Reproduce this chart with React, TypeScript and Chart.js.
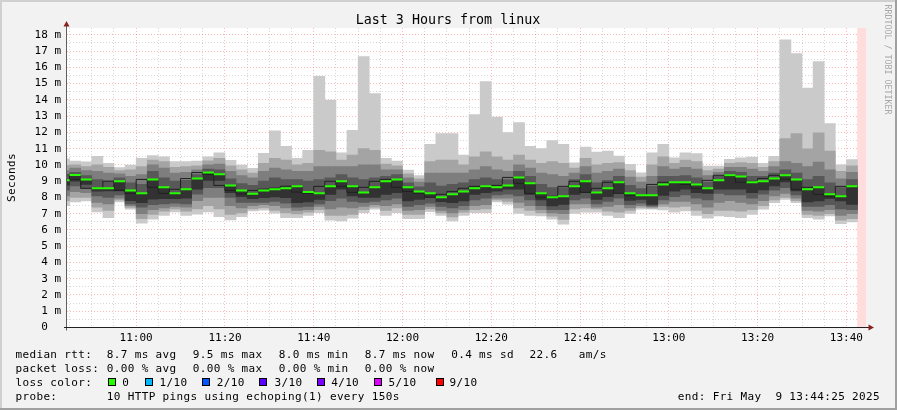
import React, { useEffect, useRef } from 'react';
import { Chart, registerables } from 'chart.js';

Chart.register(...registerables);

// ---------------- data ----------------
// end time of each 150 s probe round (value covers the 2.5 min before it)
const sampleEnds: string[] = [
  '10:45:00', '10:47:30', '10:50:00', '10:52:30', '10:55:00', '10:57:30',
  '11:00:00', '11:02:30', '11:05:00', '11:07:30', '11:10:00', '11:12:30',
  '11:15:00', '11:17:30', '11:20:00', '11:22:30', '11:25:00', '11:27:30',
  '11:30:00', '11:32:30', '11:35:00', '11:37:30', '11:40:00', '11:42:30',
  '11:45:00', '11:47:30', '11:50:00', '11:52:30', '11:55:00', '11:57:30',
  '12:00:00', '12:02:30', '12:05:00', '12:07:30', '12:10:00', '12:12:30',
  '12:15:00', '12:17:30', '12:20:00', '12:22:30', '12:25:00', '12:27:30',
  '12:30:00', '12:32:30', '12:35:00', '12:37:30', '12:40:00', '12:42:30',
  '12:45:00', '12:47:30', '12:50:00', '12:52:30', '12:55:00', '12:57:30',
  '13:00:00', '13:02:30', '13:05:00', '13:07:30', '13:10:00', '13:12:30',
  '13:15:00', '13:17:30', '13:20:00', '13:22:30', '13:25:00', '13:27:30',
  '13:30:00', '13:32:30', '13:35:00', '13:37:30', '13:40:00', '13:42:30',
];
// rounds with no data yet (drawn pink)
const unknownEnds: string[] = ['13:45:00'];

// sorted ping times (ms) of the 10 pings in each round; median = 6th value
const ping1: number[] = [
  7.50, 7.72, 7.78, 7.11, 6.76, 7.72, 7.27, 6.41, 6.66, 6.90, 7.11, 6.90,
  6.97, 7.11, 6.82, 6.62, 6.82, 7.17, 7.21, 7.03, 6.76, 6.76, 6.90, 7.07,
  6.60, 6.55, 6.72, 7.07, 7.27, 6.90, 7.07, 6.70, 6.70, 7.12, 6.90, 6.55,
  6.90, 7.07, 7.07, 7.72, 7.58, 7.02, 6.90, 6.86, 6.66, 6.35, 7.02, 7.10,
  7.10, 6.90, 6.76, 7.02, 7.27, 7.27, 7.23, 7.10, 7.17, 6.90, 6.72, 6.86,
  6.82, 6.76, 6.96, 7.27, 7.68, 7.88, 7.68, 6.76, 6.66, 6.86, 6.39, 6.49,
];
const ping2: number[] = [
  7.80, 8.00, 8.00, 7.40, 7.20, 7.85, 7.38, 6.70, 6.95, 7.15, 7.30, 7.15,
  7.30, 7.50, 7.30, 6.95, 7.05, 7.30, 7.35, 7.20, 7.05, 6.98, 7.10, 7.25,
  6.90, 6.90, 6.95, 7.25, 7.40, 7.20, 7.35, 6.95, 6.95, 7.30, 7.05, 6.80,
  7.10, 7.25, 7.30, 7.85, 7.75, 7.35, 7.20, 7.05, 6.85, 6.65, 7.30, 7.35,
  7.30, 7.15, 7.10, 7.20, 7.38, 7.34, 7.45, 7.40, 7.45, 7.20, 7.00, 7.20,
  7.20, 7.15, 7.25, 7.50, 7.85, 8.00, 7.80, 6.95, 6.90, 7.00, 6.60, 6.70,
];
const ping3: number[] = [
  8.10, 8.35, 8.30, 7.70, 7.60, 7.95, 7.50, 7.00, 7.25, 7.35, 7.45, 7.40,
  7.80, 8.00, 8.00, 7.50, 7.35, 7.50, 7.55, 7.50, 7.35, 7.20, 7.25, 7.45,
  7.30, 7.40, 7.35, 7.45, 7.55, 7.50, 7.60, 7.20, 7.25, 7.45, 7.20, 7.05,
  7.25, 7.50, 7.55, 7.95, 7.95, 7.70, 7.50, 7.25, 7.05, 7.00, 7.60, 7.60,
  7.40, 7.45, 7.55, 7.35, 7.50, 7.42, 7.60, 7.75, 7.75, 7.60, 7.40, 7.70,
  7.80, 7.70, 7.60, 7.80, 8.10, 8.25, 7.95, 7.20, 7.15, 7.25, 6.90, 7.00,
];
const ping4: number[] = [
  8.45, 8.70, 8.55, 8.10, 8.00, 8.15, 7.60, 7.40, 7.55, 7.60, 7.65, 7.60,
  8.20, 8.60, 8.60, 8.00, 7.70, 7.70, 7.70, 7.75, 7.65, 7.40, 7.45, 7.60,
  7.80, 7.95, 7.75, 7.70, 7.75, 7.85, 7.95, 7.45, 7.55, 7.65, 7.45, 7.35,
  7.50, 7.85, 7.95, 8.15, 8.20, 8.10, 7.85, 7.50, 7.25, 7.25, 7.85, 7.95,
  7.60, 7.75, 7.95, 7.55, 7.65, 7.48, 7.85, 8.05, 8.15, 7.95, 7.85, 8.25,
  8.15, 8.15, 7.95, 8.20, 8.45, 8.60, 8.15, 7.45, 7.45, 7.55, 7.30, 7.25,
];
const ping5: number[] = [
  8.75, 9.00, 8.80, 8.38, 8.40, 8.40, 7.80, 7.68, 7.90, 7.93, 7.92, 7.95,
  8.50, 9.05, 9.05, 8.29, 8.05, 7.92, 7.99, 8.03, 7.99, 7.68, 7.72, 7.88,
  8.19, 8.50, 8.09, 8.00, 8.00, 8.19, 8.29, 7.78, 7.88, 7.99, 7.74, 7.68,
  7.78, 8.19, 8.29, 8.39, 8.50, 8.50, 8.19, 7.84, 7.47, 7.57, 8.19, 8.29,
  7.88, 8.05, 8.29, 7.82, 7.88, 7.57, 8.13, 8.39, 8.50, 8.29, 8.25, 8.50,
  8.50, 8.50, 8.29, 8.46, 8.70, 8.95, 8.40, 7.72, 7.78, 7.92, 7.78, 7.57,
];
const median: number[] = [
  9.05, 9.38, 9.11, 8.56, 8.56, 9.00, 8.43, 8.25, 9.11, 8.62, 8.25, 8.50,
  9.16, 9.53, 9.42, 8.74, 8.43, 8.22, 8.43, 8.51, 8.57, 8.69, 8.33, 8.25,
  8.68, 8.99, 8.68, 8.31, 8.62, 8.99, 9.11, 8.62, 8.37, 8.25, 8.01, 8.19,
  8.37, 8.56, 8.68, 8.62, 8.74, 9.23, 8.87, 8.25, 8.01, 8.07, 8.68, 8.99,
  8.31, 8.56, 8.93, 8.25, 8.13, 8.13, 8.80, 8.93, 8.93, 8.80, 8.56, 9.05,
  9.36, 9.29, 8.93, 8.99, 9.17, 9.36, 9.11, 8.50, 8.62, 8.19, 8.07, 8.68,
];
const ping7: number[] = [
  9.30, 9.55, 9.35, 9.10, 9.00, 9.20, 8.90, 8.80, 9.60, 9.20, 9.00, 9.05,
  9.40, 9.75, 9.70, 9.15, 8.85, 8.75, 9.00, 9.20, 9.10, 9.10, 9.00, 9.10,
  9.20, 9.40, 9.20, 9.10, 9.20, 9.30, 9.40, 8.90, 8.65, 8.90, 8.70, 8.80,
  8.90, 9.10, 9.20, 9.10, 9.10, 9.60, 9.30, 8.80, 8.60, 8.60, 9.10, 9.40,
  8.90, 9.05, 9.30, 8.75, 8.55, 8.70, 9.30, 9.30, 9.35, 9.20, 8.95, 9.30,
  9.60, 9.55, 9.30, 9.30, 9.50, 9.70, 9.50, 9.10, 9.30, 8.90, 8.60, 9.10,
];
const ping8: number[] = [
  9.65, 9.80, 9.65, 9.60, 9.50, 9.45, 9.30, 9.40, 10.00, 9.80, 9.50, 9.55,
  9.70, 10.00, 10.05, 9.60, 9.35, 9.20, 9.60, 9.80, 9.70, 9.60, 9.60, 9.90,
  9.90, 9.90, 9.90, 10.00, 10.00, 9.70, 9.70, 9.20, 8.95, 9.50, 9.50, 9.50,
  9.50, 9.70, 9.90, 9.70, 9.60, 10.00, 9.80, 9.50, 9.40, 9.30, 9.50, 9.90,
  9.50, 9.60, 9.75, 9.25, 8.95, 9.30, 9.90, 9.75, 9.85, 9.75, 9.35, 9.55,
  9.85, 9.85, 9.75, 9.60, 9.90, 10.21, 10.10, 9.90, 10.17, 9.70, 9.15, 9.55,
];
const ping9: number[] = [
  9.98, 10.00, 9.90, 10.00, 9.85, 9.65, 9.70, 9.90, 10.30, 10.20, 9.85, 9.90,
  9.95, 10.25, 10.40, 9.95, 9.70, 9.50, 10.10, 10.40, 10.30, 10.00, 10.10, 10.90,
  10.80, 10.30, 10.60, 11.00, 10.90, 10.05, 9.95, 9.45, 9.15, 10.20, 10.30, 10.30,
  10.00, 10.50, 10.80, 10.50, 10.30, 10.60, 10.30, 10.10, 10.20, 10.10, 9.80, 10.40,
  10.00, 10.10, 10.15, 9.65, 9.25, 10.00, 10.50, 10.10, 10.30, 10.20, 9.65, 9.75,
  10.10, 10.15, 10.10, 9.85, 10.20, 11.62, 11.93, 10.99, 11.97, 10.85, 9.60, 9.95,
];
const ping10: number[] = [
  10.38, 10.24, 10.19, 10.52, 10.09, 9.83, 9.99, 10.40, 10.58, 10.50, 10.20, 10.20,
  10.24, 10.50, 10.75, 10.28, 9.99, 9.79, 10.71, 12.10, 11.14, 10.40, 10.90, 15.45,
  13.98, 10.75, 12.12, 16.66, 14.39, 10.40, 10.24, 9.68, 9.35, 11.26, 11.93, 11.93,
  10.60, 13.10, 15.12, 12.94, 11.99, 12.61, 11.14, 11.00, 11.50, 11.26, 10.13, 11.10,
  10.79, 10.85, 10.54, 10.03, 9.52, 10.75, 11.26, 10.44, 10.75, 10.70, 9.93, 9.93,
  10.34, 10.44, 10.48, 10.09, 10.52, 17.70, 16.84, 14.73, 16.35, 12.54, 10.00, 10.33,
];

// legend texts
const statRtt: string[] = ['8.7 ms avg', '9.5 ms max', '8.0 ms min', '8.7 ms now', '0.4 ms sd', '22.6', 'am/s'];
const statLoss: string[] = ['0.00 % avg', '0.00 % max', '0.00 % min', '0.00 % now'];
const lossLabels: string[] = ['0', '1/10', '2/10', '3/10', '4/10', '5/10', '9/10'];
const lossColors: string[] = ['#26ff00', '#00b8ff', '#0059ff', '#5e00ff', '#7e00ff', '#dd00ff', '#ff0000'];
const titleText = 'Last 3 Hours from linux';
const probeText = '10 HTTP pings using echoping(1) every 150s';
const endText = 'end: Fri May  9 13:44:25 2025';
const xStart = '10:44:25';
const xEnd = '13:44:25';
const STEP_MIN = 2.5;
const Y_MAX = 18.42;

// ---------------- helpers ----------------
const toMin = (t: string) => {
  const [h, m, s] = t.split(':').map(Number);
  return h * 60 + m + (s || 0) / 60;
};
const fmt = (v: number) => {
  const h = Math.floor(v / 60);
  const m = Math.round(v - h * 60);
  return `${String(h).padStart(2, '0')}:${String(m).padStart(2, '0')}`;
};

const MONO = '"DejaVu Sans Mono", monospace';
const SHADES = ['#cacaca', '#a4a4a4', '#7e7e7e', '#585858', '#323232'];

const ends = sampleEnds.map(toMin);
const centers = ends.map((e) => e - STEP_MIN / 2);
const lows = [ping1, ping2, ping3, ping4, ping5];
const highs = [ping10, ping9, ping8, ping7, median];

const bandSets = lows.map((lo, b) => ({
  type: 'bar' as const,
  data: centers.map((x, i) => ({ x, y: [lo[i], highs[b][i]] })),
  backgroundColor: SHADES[b],
  borderWidth: 0,
  grouped: false,
  barPercentage: 1,
  categoryPercentage: 1,
  order: 10 - b,
  clip: 0,
}));

const unknownSet = {
  type: 'bar' as const,
  data: unknownEnds.map((e) => ({ x: toMin(e) - STEP_MIN / 2, y: [0, Y_MAX] })),
  backgroundColor: '#ffdddd',
  borderWidth: 0,
  grouped: false,
  barPercentage: 1,
  categoryPercentage: 1,
  order: 20,
  clip: 0,
};

const stepPoints = ends.map((e, i) => ({ x: e - STEP_MIN, y: median[i] }));
stepPoints.push({ x: ends[ends.length - 1], y: median[median.length - 1] });
const medianStep = {
  type: 'line' as const,
  data: stepPoints,
  stepped: 'after' as const,
  borderColor: '#202020',
  borderWidth: 1,
  pointRadius: 0,
  fill: false,
  order: 2,
  clip: 0,
};

const greenPts: any[] = [];
ends.forEach((e, i) => {
  greenPts.push({ x: e - STEP_MIN, y: median[i] });
  greenPts.push({ x: e, y: median[i] });
  greenPts.push({ x: e, y: null });
});
const medianGreen = {
  type: 'line' as const,
  data: greenPts,
  borderColor: lossColors[0],
  borderWidth: 2,
  borderCapStyle: 'butt' as const,
  pointRadius: 0,
  spanGaps: false,
  fill: false,
  order: 1,
  clip: 0,
};

const xMin = toMin(xStart);
const xMax = toMin(xEnd);
const xTicks: number[] = [];
for (let v = Math.ceil(xMin / 5) * 5; v <= xMax; v += 5) xTicks.push(v);
const yTicks: number[] = [];
for (let v = 0; v <= Math.floor(Y_MAX); v += 0.5) yTicks.push(v);

const MGRID = 'rgba(240, 90, 90, 0.42)';
const GRID = 'rgba(150, 150, 150, 0.38)';

const decor = {
  id: 'decor',
  beforeDraw(chart: any) {
    const { ctx, width, height, chartArea: a } = chart;
    ctx.save();
    ctx.fillStyle = '#f2f2f2';
    ctx.fillRect(0, 0, width, height);
    ctx.fillStyle = '#d0d0d0';
    ctx.fillRect(0, 0, width, 2);
    ctx.fillRect(0, 0, 2, height);
    ctx.fillStyle = '#a0a0a0';
    ctx.fillRect(0, height - 2, width, 2);
    ctx.fillRect(width - 2, 0, 2, height);
    ctx.fillStyle = '#ffffff';
    ctx.fillRect(a.left, a.top, a.right - a.left, a.bottom - a.top);
    ctx.restore();
  },
  afterDraw(chart: any) {
    const { ctx, chartArea: a } = chart;
    ctx.save();
    // axes
    ctx.lineWidth = 1;
    ctx.strokeStyle = '#606060';
    ctx.beginPath();
    ctx.moveTo(a.left - 0.5, a.bottom + 3);
    ctx.lineTo(a.left - 0.5, a.top - 4);
    ctx.stroke();
    ctx.strokeStyle = '#202020';
    ctx.beginPath();
    ctx.moveTo(a.left - 3, a.bottom);
    ctx.lineTo(a.right + 4, a.bottom);
    ctx.stroke();
    ctx.fillStyle = '#8a2020';
    ctx.beginPath();
    ctx.moveTo(a.left - 0.5, a.top - 7);
    ctx.lineTo(a.left - 3.5, a.top - 1.5);
    ctx.lineTo(a.left + 2.5, a.top - 1.5);
    ctx.closePath();
    ctx.fill();
    ctx.beginPath();
    ctx.moveTo(a.right + 8, a.bottom);
    ctx.lineTo(a.right + 2.5, a.bottom - 3);
    ctx.lineTo(a.right + 2.5, a.bottom + 3);
    ctx.closePath();
    ctx.fill();

    // title
    ctx.fillStyle = '#000';
    ctx.font = `13.33px ${MONO}`;
    ctx.textAlign = 'center';
    ctx.textBaseline = 'alphabetic';
    ctx.fillText(titleText, 448, 24);

    // legend
    ctx.font = `11px ${MONO}`;
    try { (ctx as any).letterSpacing = '0.35px'; } catch (e) { /* ignore */ }
    ctx.textAlign = 'left';
    const c0 = 15.5, c1 = 106.8;
    const rttX = [106.8, 192.8, 278.8, 364.8, 451.2, 529.5, 578.8];
    ctx.fillText('median rtt:', c0, 357.5);
    statRtt.forEach((s, i) => ctx.fillText(s, rttX[i], 357.5));
    ctx.fillText('packet loss:', c0, 371.5);
    statLoss.forEach((s, i) => ctx.fillText(s, rttX[i], 371.5));
    ctx.fillText('loss color:', c0, 385.5);
    const boxX = [108, 145, 202, 259, 317, 374, 436];
    const labX = [122.2, 159.5, 216.8, 274.5, 331.2, 388.5, 449.5];
    lossLabels.forEach((l, i) => {
      ctx.fillStyle = '#000';
      ctx.fillRect(boxX[i], 378, 8, 8);
      ctx.fillStyle = lossColors[i];
      ctx.fillRect(boxX[i] + 1, 379, 6, 6);
      ctx.fillStyle = '#000';
      ctx.fillText(l, labX[i], 385.5);
    });
    ctx.fillText('probe:', c0, 399.5);
    ctx.fillText(probeText, c1, 399.5);
    ctx.fillText(endText, 677.8, 399.5);

    // y title
    ctx.save();
    ctx.translate(15, 177.5);
    ctx.rotate(-Math.PI / 2);
    ctx.textAlign = 'center';
    ctx.fillText('Seconds', 0, 0);
    ctx.restore();

    // watermark
    ctx.save();
    try { (ctx as any).letterSpacing = '0px'; } catch (e) { /* ignore */ }
    ctx.translate(885, 4.5);
    ctx.rotate(Math.PI / 2);
    ctx.fillStyle = '#a8a8a8';
    ctx.font = `8.3px ${MONO}`;
    ctx.textAlign = 'left';
    ctx.fillText('RRDTOOL / TOBI OETIKER', 0, 0);
    ctx.restore();
    ctx.restore();
  },
};

export default function App() {
  const ref = useRef<HTMLCanvasElement>(null);
  useEffect(() => {
    if (!ref.current) return;
    const chart = new Chart(ref.current, {
      type: 'bar',
      data: { datasets: [unknownSet, ...bandSets, medianStep, medianGreen] as any },
      options: {
        responsive: false,
        animation: false,
        events: [],
        devicePixelRatio: 1,
        layout: { padding: { left: 0, top: 28, right: 31, bottom: 0 } },
        plugins: {
          legend: { display: false },
          title: { display: false },
          tooltip: { enabled: false },
        },
        scales: {
          x: {
            type: 'linear',
            min: xMin,
            max: xMax,
            offset: false,
            bounds: 'data',
            z: 1,
            grid: {
              offset: false,
              drawTicks: false,
              lineWidth: 1,
              color: (c: any) => (c.tick && Math.round(c.tick.value) % 20 === 0 ? MGRID : GRID),
            },
            border: { display: false, dash: [1, 2] },
            afterBuildTicks: (s: any) => {
              s.ticks = xTicks.map((v) => ({ value: v }));
            },
            afterFit: (s: any) => {
              s.height = 410 - 327.5;
            },
            ticks: {
              autoSkip: false,
              maxRotation: 0,
              padding: 4,
              color: '#000',
              font: { family: MONO, size: 11 },
              callback: (v: any) => (Math.round(v) % 20 === 0 ? fmt(v) : ''),
            },
          },
          y: {
            type: 'linear',
            min: 0,
            max: Y_MAX,
            bounds: 'data',
            z: 1,
            grid: {
              drawTicks: false,
              lineWidth: 1,
              color: (c: any) => (c.tick && Number.isInteger(c.tick.value) ? MGRID : GRID),
            },
            border: { display: false, dash: [1, 2] },
            afterBuildTicks: (s: any) => {
              s.ticks = yTicks.map((v) => ({ value: v }));
            },
            afterFit: (s: any) => {
              s.width = 67;
            },
            ticks: {
              autoSkip: false,
              padding: 6,
              color: '#000',
              font: { family: MONO, size: 11 },
              callback: (v: any) => (Number.isInteger(v) ? (v === 0 ? '0  ' : `${v} m`) : ''),
            },
          },
        },
      } as any,
      plugins: [decor],
    });
    return () => chart.destroy();
  }, []);
  return (
    <div style={{ position: 'absolute', left: 0, top: 0, width: 897, height: 410 }}>
      <canvas ref={ref} width={897} height={410} style={{ display: 'block', width: 897, height: 410 }} />
    </div>
  );
}
